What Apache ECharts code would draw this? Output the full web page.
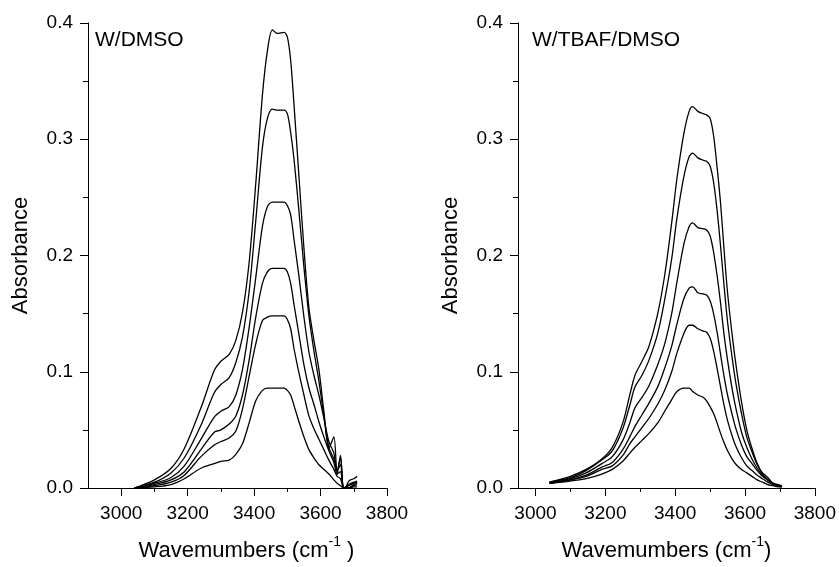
<!DOCTYPE html>
<html>
<head>
<meta charset="utf-8">
<script src="https://cdn.jsdelivr.net/npm/echarts@6/dist/echarts.min.js"></script>
<style>
html,body{margin:0;padding:0;background:#fff;}
#chart{width:839px;height:567px;}
</style>
</head>
<body>
<div id="chart"></div>
<script>
// ---------- data ----------
const panelTitles = ['W/DMSO', 'W/TBAF/DMSO'];
const majorTicksX = [3000, 3200, 3400, 3600, 3800];
const minorTicksLeftX = [3100, 3300, 3500, 3700];
const minorTicksRightX = [3100, 3300, 3500, 3700];

// Left panel: W/DMSO
const xLeft = [3040, 3100, 3150, 3190, 3240, 3280, 3300, 3325, 3345, 3365, 3385, 3405, 3425, 3440, 3455, 3470, 3490, 3500, 3510, 3520, 3535, 3550, 3565, 3580, 3595, 3610, 3625, 3640, 3650, 3660, 3670, 3685, 3700, 3710];
const left1 = [0.000, 0.007, 0.017, 0.034, 0.069, 0.101, 0.109, 0.115, 0.127, 0.151, 0.194, 0.262, 0.338, 0.376, 0.394, 0.391, 0.392, 0.388, 0.368, 0.330, 0.268, 0.206, 0.155, 0.127, 0.102, 0.066, 0.034, 0.044, 0.012, 0.028, -0.004, 0.006, 0.008, 0.010];
const left2 = [0.000, 0.005, 0.013, 0.026, 0.054, 0.082, 0.089, 0.095, 0.108, 0.130, 0.169, 0.230, 0.293, 0.318, 0.326, 0.325, 0.325, 0.322, 0.306, 0.283, 0.238, 0.190, 0.148, 0.118, 0.092, 0.062, 0.035, 0.025, 0.016, 0.026, 0.000, 0.003, 0.005, 0.006];
const left3 = [0.000, 0.004, 0.009, 0.019, 0.042, 0.061, 0.066, 0.070, 0.080, 0.102, 0.138, 0.181, 0.225, 0.242, 0.246, 0.246, 0.246, 0.243, 0.235, 0.214, 0.182, 0.147, 0.117, 0.097, 0.080, 0.060, 0.040, 0.030, 0.015, 0.020, 0.000, 0.002, 0.004, 0.005];
const left4 = [0.000, 0.003, 0.007, 0.014, 0.033, 0.048, 0.050, 0.055, 0.062, 0.080, 0.110, 0.147, 0.176, 0.186, 0.189, 0.189, 0.189, 0.186, 0.176, 0.158, 0.132, 0.106, 0.086, 0.072, 0.057, 0.044, 0.032, 0.022, 0.012, 0.014, 0.000, 0.000, 0.003, 0.004];
const left5 = [0.000, 0.002, 0.005, 0.011, 0.027, 0.037, 0.040, 0.043, 0.049, 0.068, 0.096, 0.124, 0.144, 0.147, 0.148, 0.148, 0.148, 0.145, 0.137, 0.120, 0.099, 0.080, 0.062, 0.051, 0.042, 0.033, 0.024, 0.016, 0.010, 0.008, 0.000, 0.000, 0.002, 0.003];
const left6 = [0.000, 0.001, 0.003, 0.008, 0.017, 0.021, 0.023, 0.024, 0.029, 0.038, 0.056, 0.075, 0.084, 0.086, 0.086, 0.086, 0.086, 0.084, 0.080, 0.071, 0.057, 0.044, 0.033, 0.026, 0.020, 0.016, 0.012, 0.007, 0.004, 0.002, 0.000, 0.000, 0.001, 0.001];

// Right panel: W/TBAF/DMSO
const xRight = [3040, 3100, 3145, 3190, 3220, 3250, 3270, 3285, 3305, 3325, 3350, 3370, 3390, 3405, 3425, 3440, 3450, 3465, 3480, 3490, 3500, 3510, 3520, 3530, 3540, 3550, 3565, 3575, 3590, 3605, 3620, 3635, 3650, 3665, 3680, 3695, 3705];
const right1 = [0.005, 0.010, 0.016, 0.025, 0.035, 0.056, 0.080, 0.097, 0.109, 0.122, 0.150, 0.183, 0.228, 0.266, 0.305, 0.324, 0.328, 0.324, 0.322, 0.321, 0.318, 0.303, 0.276, 0.245, 0.205, 0.168, 0.127, 0.104, 0.074, 0.050, 0.034, 0.021, 0.012, 0.007, 0.004, 0.003, 0.002];
const right2 = [0.005, 0.009, 0.015, 0.024, 0.032, 0.051, 0.071, 0.087, 0.097, 0.110, 0.133, 0.162, 0.197, 0.232, 0.268, 0.285, 0.288, 0.284, 0.282, 0.281, 0.277, 0.263, 0.239, 0.208, 0.174, 0.143, 0.108, 0.088, 0.064, 0.044, 0.031, 0.020, 0.013, 0.009, 0.004, 0.002, 0.002];
const right3 = [0.004, 0.008, 0.013, 0.021, 0.027, 0.041, 0.056, 0.069, 0.078, 0.088, 0.106, 0.124, 0.150, 0.177, 0.210, 0.225, 0.228, 0.224, 0.223, 0.222, 0.217, 0.203, 0.183, 0.159, 0.132, 0.110, 0.082, 0.067, 0.048, 0.035, 0.025, 0.017, 0.011, 0.007, 0.004, 0.002, 0.001];
const right4 = [0.004, 0.007, 0.011, 0.018, 0.022, 0.033, 0.044, 0.053, 0.063, 0.073, 0.087, 0.103, 0.122, 0.141, 0.163, 0.172, 0.173, 0.168, 0.167, 0.166, 0.161, 0.150, 0.134, 0.115, 0.096, 0.080, 0.061, 0.050, 0.037, 0.027, 0.021, 0.015, 0.010, 0.007, 0.004, 0.002, 0.001];
const right5 = [0.004, 0.007, 0.010, 0.016, 0.019, 0.028, 0.038, 0.044, 0.052, 0.060, 0.072, 0.084, 0.100, 0.116, 0.133, 0.140, 0.140, 0.137, 0.135, 0.134, 0.129, 0.118, 0.103, 0.087, 0.071, 0.058, 0.043, 0.035, 0.026, 0.019, 0.015, 0.011, 0.008, 0.005, 0.003, 0.002, 0.001];
const right6 = [0.004, 0.006, 0.008, 0.012, 0.016, 0.023, 0.030, 0.035, 0.041, 0.047, 0.056, 0.066, 0.076, 0.083, 0.086, 0.086, 0.083, 0.080, 0.078, 0.075, 0.070, 0.064, 0.056, 0.047, 0.039, 0.032, 0.024, 0.020, 0.016, 0.013, 0.010, 0.007, 0.005, 0.003, 0.002, 0.001, 0.001];

// ---------- chart ----------
const FONT = "'Liberation Sans', Arial, Helvetica, sans-serif";
const zip = (xs, ys) => xs.map((x, i) => [x, ys[i]]);

function lineSeries(xi, yi, xs, ys) {
  return {
    type: 'line', xAxisIndex: xi, yAxisIndex: yi, data: zip(xs, ys),
    showSymbol: false, smooth: 0.3, silent: true,
    lineStyle: { color: '#000', width: 1.3 }
  };
}

function xMain(gridIndex, min, nameRich, namePad) {
  return {
    type: 'value', gridIndex, min, max: 3800, position: 'bottom',
    axisLine: { show: true, onZero: false, lineStyle: { color: '#000', width: 1 } },
    axisTick: { show: true, inside: false, length: 8, customValues: majorTicksX, lineStyle: { color: '#000', width: 1 } },
    axisLabel: { show: true, margin: 16, customValues: majorTicksX, color: '#000', fontSize: 19, fontFamily: FONT, formatter: v => String(v) },
    splitLine: { show: false },
    name: nameRich, nameLocation: 'middle', nameGap: 47,
    nameTextStyle: {
      color: '#000', fontFamily: FONT, padding: namePad,
      rich: {
        a: { fontSize: 22, fontFamily: FONT, color: '#000', lineHeight: 27, verticalAlign: 'bottom' },
        s: { fontSize: 14, fontFamily: FONT, color: '#000', lineHeight: 27, verticalAlign: 'top' }
      }
    }
  };
}
function xMinor(gridIndex, min, vals) {
  return {
    type: 'value', gridIndex, min, max: 3800, position: 'bottom',
    axisLine: { show: false },
    axisTick: { show: true, inside: false, length: 4, customValues: vals, lineStyle: { color: '#000', width: 1 } },
    axisLabel: { show: false },
    splitLine: { show: false }
  };
}
function yAxis(gridIndex) {
  return {
    type: 'value', gridIndex, min: 0, max: 0.4, interval: 0.1,
    axisLine: { show: true, onZero: false, lineStyle: { color: '#000', width: 1 } },
    axisTick: { show: true, inside: false, length: 8, lineStyle: { color: '#000', width: 1 } },
    minorTick: { show: true, splitNumber: 2, length: 5, lineStyle: { color: '#000', width: 1 } },
    axisLabel: { margin: 15, color: '#000', fontSize: 19, fontFamily: FONT, formatter: v => v.toFixed(1) },
    splitLine: { show: false },
    name: 'Absorbance', nameLocation: 'middle', nameGap: 56,
    nameTextStyle: { color: '#000', fontSize: 22, fontFamily: FONT }
  };
}

const chart = echarts.init(document.getElementById('chart'), null, { renderer: 'canvas' });
chart.setOption({
  backgroundColor: '#fff',
  animation: false,
  title: [
    { text: panelTitles[0], left: 95, top: 30, padding: 0, textStyle: { fontSize: 21, fontWeight: 'normal', color: '#000', fontFamily: FONT } },
    { text: panelTitles[1], left: 532, top: 30, padding: 0, textStyle: { fontSize: 21, fontWeight: 'normal', color: '#000', fontFamily: FONT } }
  ],
  grid: [
    { left: 88, top: 23, width: 299, height: 466 },
    { left: 518, top: 23, width: 301, height: 466 }
  ],
  xAxis: [
    xMain(0, 2900, '{a|Wavemumbers (cm}{s|-1}{a| )}', [0, 0, 0, 18]),
    xMain(1, 2950, '{a|Wavemumbers (cm}{s|-1}{a|)}', [0, 0, 0, 0]),
    xMinor(0, 2900, minorTicksLeftX),
    xMinor(1, 2950, minorTicksRightX)
  ],
  yAxis: [yAxis(0), yAxis(1)],
  series: [
    lineSeries(0, 0, xLeft, left1), lineSeries(0, 0, xLeft, left2), lineSeries(0, 0, xLeft, left3),
    lineSeries(0, 0, xLeft, left4), lineSeries(0, 0, xLeft, left5), lineSeries(0, 0, xLeft, left6),
    lineSeries(1, 1, xRight, right1), lineSeries(1, 1, xRight, right2), lineSeries(1, 1, xRight, right3),
    lineSeries(1, 1, xRight, right4), lineSeries(1, 1, xRight, right5), lineSeries(1, 1, xRight, right6)
  ]
});
</script>
</body>
</html>
